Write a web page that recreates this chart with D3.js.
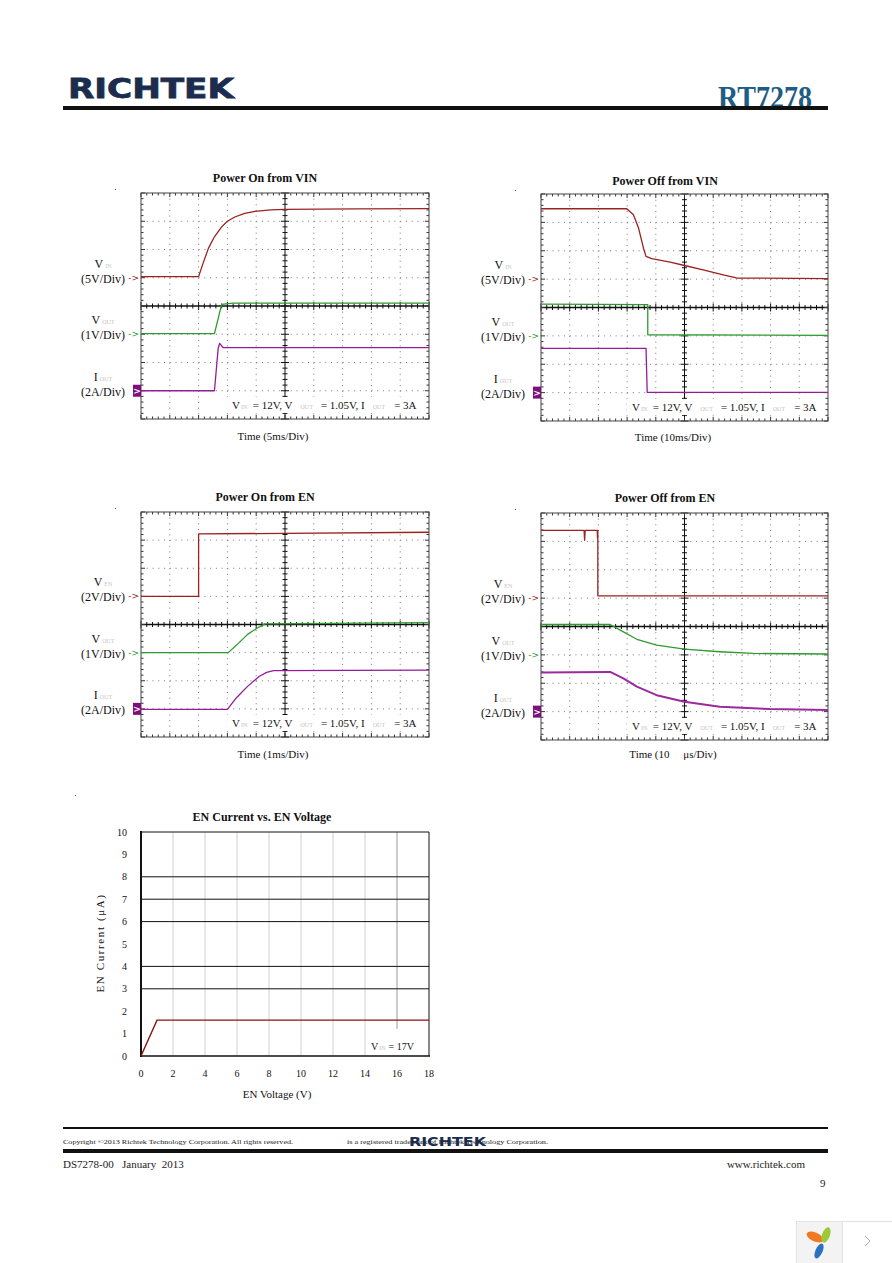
<!DOCTYPE html>
<html><head><meta charset="utf-8">
<script src="https://cdn.jsdelivr.net/npm/d3@7/dist/d3.min.js"></script>
<style>body{margin:0;background:#fff}svg{display:block}</style>
</head><body>
<script>
// ---------- DATA (divisions: x 0..10, y 0..8 from bottom) ----------
const p1Vin  = [[0,5.04],[2.0,5.04],[2.15,5.5],[2.34,6.04],[2.55,6.45],[2.8,6.8],[3.0,7.0],[3.26,7.15],[3.6,7.28],[3.96,7.35],[4.5,7.4],[5.0,7.42],[7.5,7.44],[10,7.45]];
const p1Vout = [[0,3.02],[2.55,3.02],[2.8,4.06],[3.2,4.1],[10,4.1]];
const p1Iout = [[0,1.0],[2.55,1.0],[2.68,2.5],[2.73,2.68],[2.85,2.53],[10,2.53]];

const p2Vin  = [[0,7.48],[2.99,7.48],[3.22,7.27],[3.4,6.8],[3.57,6.09],[3.66,5.8],[3.86,5.72],[4.5,5.6],[5.0,5.48],[5.65,5.33],[6.35,5.15],[6.81,5.04],[10,5.02]];
const p2Vout = [[0,4.12],[3.72,4.1],[3.72,3.04],[10,3.02]];
const p2Iout = [[0,2.56],[3.66,2.56],[3.7,1.01],[10,1.01]];

const p3Ven  = [[0,5.0],[2.0,5.0],[2.0,7.22],[10,7.28]];
const p3Vout = [[0,3.0],[3.03,3.0],[3.3,3.25],[3.7,3.65],[4.0,3.85],[4.3,4.02],[10,4.07]];
const p3Iout = [[0,0.98],[3.0,0.98],[3.3,1.38],[3.7,1.8],[4.1,2.15],[4.36,2.3],[4.6,2.36],[10,2.38]];

const p4Ven  = [[0,7.39],[1.5,7.39],[1.52,7.04],[1.54,7.39],[1.96,7.39],[1.97,7.1],[1.98,7.39],[1.98,5.08],[10,5.08]];
const p4Vout = [[0,4.07],[2.41,4.07],[2.76,3.87],[3.34,3.55],[4.03,3.34],[5.0,3.2],[6.23,3.11],[7.39,3.05],[10,3.03]];
const p4Iout = [[0,2.38],[2.41,2.4],[2.87,2.17],[3.34,1.88],[4.03,1.58],[5.0,1.35],[6.23,1.17],[7.97,1.09],[10,1.06]];

const scopeTitles = ["Power On from VIN","Power Off from VIN","Power On from EN","Power Off from EN"];
const timeLabels  = ["Time (5ms/Div)","Time (10ms/Div)","Time (1ms/Div)","Time (10     \u03bcs/Div)"];
const ch1Names = ["IN","IN","EN","EN"];
const ch1Divs  = ["(5V/Div)","(5V/Div)","(2V/Div)","(2V/Div)"];

// EN current vs EN voltage
const enVoltage = [0, 1, 18];
const enCurrent = [0, 1.6, 1.6];
const enXTicks = [0,2,4,6,8,10,12,14,16,18];
const enYTicks = [0,1,2,3,4,5,6,7,8,9,10];
const enHGrid  = [3,4,6,7,8];
const enVGrid  = [2,4,6,8,10,12,14];

// ---------- DRAW ----------
const W=892,H=1263;
const svg=d3.select("body").append("svg").attr("width",W).attr("height",H);
const SERIF="'Liberation Serif','Times New Roman',serif";
const RED="#9b2222", GREEN="#2f9a2f", PURPLE="#951c98";

// header
svg.append("text").attr("x",68).attr("y",98).attr("font-family","'DejaVu Sans',sans-serif")
  .attr("font-weight","bold").attr("font-size",27).attr("fill","#1b2c4e").attr("stroke","#1b2c4e").attr("stroke-width",0.8)
  .attr("textLength",166).attr("lengthAdjust","spacingAndGlyphs").text("RICHTEK");
svg.append("text").attr("x",718).attr("y",108).attr("font-family",SERIF)
  .attr("font-weight","bold").attr("font-size",31).attr("fill","#1f5d86")
  .attr("textLength",94).attr("lengthAdjust","spacingAndGlyphs").text("RT7278");
svg.append("rect").attr("x",63).attr("y",106).attr("width",765).attr("height",4).attr("fill","#111");

function scope(cfg){
  const g=svg.append("g");
  const x=d3.scaleLinear().domain([0,10]).range([cfg.x0,cfg.x1]);
  const y=d3.scaleLinear().domain([0,8]).range([cfg.y1,cfg.y0]);
  const dx=(cfg.x1-cfg.x0)/50, dy=(cfg.y1-cfg.y0)/40;
  // dotted grid
  d3.range(1,10).filter(i=>i!==5).forEach(i=>{
    g.append("line").attr("x1",x(i)).attr("x2",x(i)).attr("y1",cfg.y0).attr("y2",cfg.y1)
     .attr("stroke","#777").attr("stroke-width",1).attr("stroke-dasharray",`1 ${dy-1}`);
  });
  d3.range(1,8).filter(j=>j!==4).forEach(j=>{
    g.append("line").attr("x1",cfg.x0).attr("x2",cfg.x1).attr("y1",y(j)).attr("y2",y(j))
     .attr("stroke","#777").attr("stroke-width",1).attr("stroke-dasharray",`1 ${dx-1}`);
  });
  // center lines
  g.append("line").attr("x1",x(5)).attr("x2",x(5)).attr("y1",cfg.y0).attr("y2",cfg.y1).attr("stroke","#111");
  g.append("line").attr("x1",cfg.x0).attr("x2",cfg.x1).attr("y1",y(4)).attr("y2",y(4)).attr("stroke","#111").attr("stroke-width",1.3);
  // ticks
  const xt=d3.range(0,50.5,1), yt=d3.range(0,40.5,1);
  xt.forEach(k=>{
    const major=k%5===0, L=major?4:2.5, xx=cfg.x0+k*dx;
    g.append("line").attr("x1",xx).attr("x2",xx).attr("y1",cfg.y0).attr("y2",cfg.y0+L).attr("stroke","#333");
    g.append("line").attr("x1",xx).attr("x2",xx).attr("y1",cfg.y1).attr("y2",cfg.y1-L).attr("stroke","#333");
    g.append("line").attr("x1",xx).attr("x2",xx).attr("y1",y(4)-L).attr("y2",y(4)+L).attr("stroke","#111");
  });
  yt.forEach(k=>{
    const major=k%5===0, L=major?4:2.5, yy=cfg.y1-k*dy;
    g.append("line").attr("x1",cfg.x0).attr("x2",cfg.x0+L).attr("y1",yy).attr("y2",yy).attr("stroke","#333");
    g.append("line").attr("x1",cfg.x1).attr("x2",cfg.x1-L).attr("y1",yy).attr("y2",yy).attr("stroke","#333");
    g.append("line").attr("x1",x(5)-L).attr("x2",x(5)+L).attr("y1",yy).attr("y2",yy).attr("stroke","#111");
  });
  // border
  g.append("rect").attr("x",cfg.x0).attr("y",cfg.y0).attr("width",cfg.x1-cfg.x0).attr("height",cfg.y1-cfg.y0)
   .attr("fill","none").attr("stroke","#444").attr("stroke-width",1);
  // annotation background
  g.append("rect").attr("x",cfg.x0+86).attr("y",cfg.y1-22).attr("width",cfg.x1-cfg.x0-92).attr("height",16).attr("fill","#fff");
  const ann=g.append("text").attr("x",cfg.x0+91).attr("y",cfg.y1-10).attr("font-family",SERIF).attr("font-size",11).attr("fill","#111").attr("xml:space","preserve");
  ann.append("tspan").text("V");
  ann.append("tspan").attr("font-size",6).attr("fill","#c4c4c4").attr("dx",1).text("IN");
  ann.append("tspan").text("  = 12V, V");
  ann.append("tspan").attr("font-size",6).attr("fill","#c4c4c4").attr("dx",8).text("OUT");
  ann.append("tspan").attr("dx",8).text("= 1.05V, I");
  ann.append("tspan").attr("font-size",6).attr("fill","#c4c4c4").attr("dx",8).text("OUT");
  ann.append("tspan").attr("dx",9).text("= 3A");
  // traces
  const line=d3.line().x(d=>x(d[0])).y(d=>y(d[1]));
  cfg.traces.forEach(t=>{
    g.append("path").attr("d",line(t.data)).attr("fill","none").attr("stroke",t.color)
     .attr("stroke-width",t.w||1.3).attr("stroke-linejoin","round");
  });
  // markers and labels
  cfg.markers.forEach(m=>{
    const yy=y(m.level);
    if(m.box){
      g.append("rect").attr("x",cfg.x0-8).attr("y",yy-6).attr("width",8).attr("height",12).attr("fill","#7f0f7f");
      g.append("text").attr("x",cfg.x0-4).attr("y",yy+3.5).attr("text-anchor","middle").attr("font-family","'DejaVu Sans',sans-serif")
       .attr("font-size",9).attr("font-weight","bold").attr("fill","#fff").text(">");
    } else {
      g.append("text").attr("x",cfg.x0-2).attr("y",yy+3).attr("text-anchor","end").attr("font-family","'DejaVu Sans',sans-serif")
       .attr("font-size",9).attr("fill",m.color).text("->");
    }
    const lx=cfg.x0-38;
    const nt=g.append("text").attr("x",lx).attr("y",yy-10).attr("text-anchor","middle").attr("font-family",SERIF).attr("font-size",12).attr("fill","#111");
    nt.append("tspan").text(m.main);
    nt.append("tspan").attr("font-size",6).attr("fill","#c4c4c4").attr("dx",2).text(m.sub);
    g.append("text").attr("x",lx).attr("y",yy+5).attr("text-anchor","middle").attr("font-family",SERIF).attr("font-size",12).attr("fill","#111").text(m.div);
  });
  g.append("text").attr("x",cfg.x0+124).attr("y",cfg.ty).attr("text-anchor","middle").attr("font-family",SERIF)
   .attr("font-weight","bold").attr("font-size",12).attr("fill","#111").text(cfg.title);
  g.append("text").attr("x",cfg.x0+132).attr("y",cfg.by).attr("text-anchor","middle").attr("font-family",SERIF)
   .attr("font-size",11).attr("fill","#111").attr("xml:space","preserve").text(cfg.time);
  g.append("rect").attr("x",cfg.x0-26).attr("y",cfg.y0-4).attr("width",1).attr("height",1).attr("fill","#555");
}

const boxes=[
  {x0:141,x1:429,y0:193,y1:419,ty:182,by:440},
  {x0:541,x1:828,y0:194,y1:421,ty:185,by:441},
  {x0:141,x1:429,y0:512,y1:737,ty:501,by:758},
  {x0:541,x1:828,y0:513,y1:740,ty:502,by:758}
];
const traceSets=[[p1Vin,p1Vout,p1Iout],[p2Vin,p2Vout,p2Iout],[p3Ven,p3Vout,p3Iout],[p4Ven,p4Vout,p4Iout]];
boxes.forEach((b,i)=>{
  const ts=traceSets[i];
  scope(Object.assign({},b,{
    title:scopeTitles[i], time:timeLabels[i],
    traces:[{data:ts[0],color:RED},{data:ts[1],color:GREEN},{data:ts[2],color:i===3?"#9a2a9e":PURPLE,w:i===3?2:1.3}],
    markers:[
      {level:5,color:RED,main:"V",sub:ch1Names[i],div:ch1Divs[i]},
      {level:3,color:GREEN,main:"V",sub:"OUT",div:"(1V/Div)"},
      {level:1,color:PURPLE,main:"I",sub:"OUT",div:"(2A/Div)",box:true}
    ]
  }));
});

// ---------- EN current chart ----------
(function(){
  const x0=141,x1=429,y0=832,y1=1056;
  const x=d3.scaleLinear().domain([0,18]).range([x0,x1]);
  const y=d3.scaleLinear().domain([0,10]).range([y1,y0]);
  const g=svg.append("g");
  enVGrid.forEach(v=>g.append("line").attr("x1",x(v)).attr("x2",x(v)).attr("y1",y0).attr("y2",y1).attr("stroke","#d0d0d0"));
  g.append("line").attr("x1",x(16)).attr("x2",x(16)).attr("y1",y0).attr("y2",y(1.2)).attr("stroke","#9a9a9a");
  enHGrid.forEach(v=>g.append("line").attr("x1",x0).attr("x2",x1).attr("y1",y(v)).attr("y2",y(v)).attr("stroke","#111"));
  g.append("line").attr("x1",x0).attr("x2",x1).attr("y1",y0).attr("y2",y0).attr("stroke","#111");
  g.append("line").attr("x1",x1).attr("x2",x1).attr("y1",y0).attr("y2",y1).attr("stroke","#111");
  g.append("line").attr("x1",x0).attr("x2",x1+1).attr("y1",y1).attr("y2",y1).attr("stroke","#111").attr("stroke-width",1.5);
  g.append("line").attr("x1",x0).attr("x2",x0).attr("y1",y0-1).attr("y2",y1+1).attr("stroke","#111").attr("stroke-width",2);
  const pts=enVoltage.map((v,i)=>[v,enCurrent[i]]);
  g.append("path").attr("d",d3.line().x(d=>x(d[0])).y(d=>y(d[1]))(pts)).attr("fill","none").attr("stroke","#8b1010").attr("stroke-width",1.4);
  // annotation
  g.append("rect").attr("x",x(14.6)).attr("y",y(1.2)).attr("width",x(17.7)-x(14.6)).attr("height",y(0.05)-y(1.2)).attr("fill","#fff");
  const an=g.append("text").attr("x",371).attr("y",1050).attr("font-family",SERIF).attr("font-size",10).attr("fill","#111");
  an.append("tspan").text("V");
  an.append("tspan").attr("font-size",6).attr("fill","#c4c4c4").attr("dx",1).text("IN");
  an.append("tspan").attr("dx",3).text("= 17V");
  // tick labels
  enYTicks.forEach(v=>g.append("text").attr("x",127).attr("y",y(v)+3.5).attr("text-anchor","end").attr("font-family",SERIF).attr("font-size",10).attr("fill","#111").text(v));
  enXTicks.forEach(v=>g.append("text").attr("x",x(v)).attr("y",1077).attr("text-anchor","middle").attr("font-family",SERIF).attr("font-size",10).attr("fill","#111").text(v));
  g.append("text").attr("x",262).attr("y",821).attr("text-anchor","middle").attr("font-family",SERIF).attr("font-weight","bold").attr("font-size",12).attr("fill","#111").text("EN Current vs. EN Voltage");
  g.append("text").attr("x",277).attr("y",1098).attr("text-anchor","middle").attr("font-family",SERIF).attr("font-size",11).attr("fill","#111").text("EN Voltage (V)");
  g.append("text").attr("transform","translate(104,943) rotate(-90)").attr("text-anchor","middle").attr("font-family",SERIF)
   .attr("font-size",11).attr("letter-spacing",1.6).attr("fill","#111").text("EN Current (\u03bcA)");
  g.append("rect").attr("x",75).attr("y",795).attr("width",1).attr("height",1).attr("fill","#555");
})();

// ---------- footer ----------
svg.append("rect").attr("x",63).attr("y",1127).attr("width",765).attr("height",2).attr("fill","#111");
svg.append("text").attr("x",63).attr("y",1144).attr("font-family",SERIF).attr("font-size",7).attr("fill","#222")
  .attr("textLength",230).attr("lengthAdjust","spacingAndGlyphs").text("Copyright \u00a92013 Richtek Technology Corporation. All rights reserved.");
svg.append("text").attr("x",347).attr("y",1144).attr("font-family",SERIF).attr("font-size",7).attr("fill","#222")
  .attr("textLength",201).attr("lengthAdjust","spacingAndGlyphs").text("is a registered trademark of Richtek Technology Corporation.");
svg.append("text").attr("x",409).attr("y",1146).attr("font-family","'DejaVu Sans',sans-serif").attr("font-weight","bold")
  .attr("font-size",13).attr("fill","#1b2c4e").attr("textLength",77).attr("lengthAdjust","spacingAndGlyphs").text("RICHTEK");
svg.append("rect").attr("x",63).attr("y",1149).attr("width",765).attr("height",4).attr("fill","#111");
svg.append("text").attr("x",63).attr("y",1168).attr("font-family",SERIF).attr("font-size",11).attr("fill","#222").attr("xml:space","preserve").text("DS7278-00   January  2013");
svg.append("text").attr("x",805).attr("y",1168).attr("text-anchor","end").attr("font-family",SERIF).attr("font-size",11).attr("fill","#222").text("www.richtek.com");
svg.append("text").attr("x",820).attr("y",1187).attr("font-family",SERIF).attr("font-size",11).attr("fill","#222").text("9");

// viewer widget (bottom right)
const wg=svg.append("g");
wg.append("rect").attr("x",796.5).attr("y",1221.5).attr("width",100).attr("height",50).attr("fill","#fff").attr("stroke","#e2e2e2");
wg.append("rect").attr("x",797).attr("y",1222).attr("width",45).attr("height",41).attr("fill","#f3f3f3");
wg.append("line").attr("x1",842.5).attr("x2",842.5).attr("y1",1222).attr("y2",1263).attr("stroke","#e2e2e2");
wg.append("ellipse").attr("cx",815).attr("cy",1237).attr("rx",9).attr("ry",4.5).attr("transform","rotate(25,815,1237)").attr("fill","#f07a22");
wg.append("ellipse").attr("cx",826).attr("cy",1235).attr("rx",4).attr("ry",8).attr("transform","rotate(20,826,1235)").attr("fill","#9cc83a");
wg.append("ellipse").attr("cx",819).attr("cy",1251).attr("rx",3.5).attr("ry",8).attr("transform","rotate(25,819,1251)").attr("fill","#2a72c0");
wg.append("path").attr("d","M865,1236 L870,1241 L865,1246").attr("fill","none").attr("stroke","#aaa").attr("stroke-width",1);
</script>
</body></html>
